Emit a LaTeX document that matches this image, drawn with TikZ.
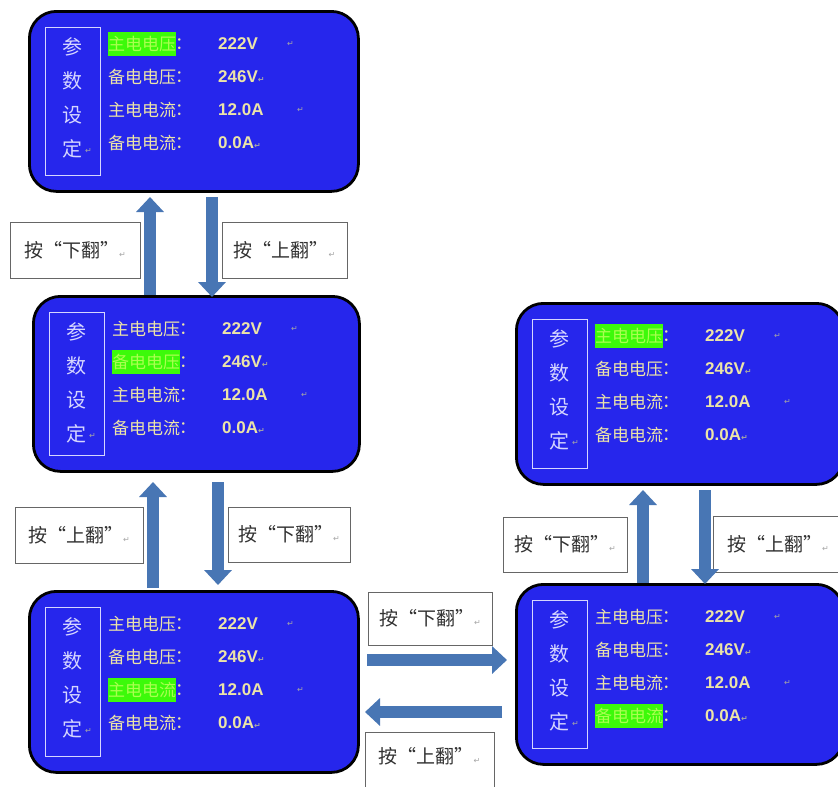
\documentclass[tikz,border=0pt]{standalone}
\usepackage{fontspec}
\usetikzlibrary{calc,arrows.meta}
\newfontfamily\cjk{Noto Sans CJK SC}
\newfontfamily\numf{Liberation Sans}
\newfontfamily\symf{DejaVu Sans}
\definecolor{lcdblue}{RGB}{38,38,236}
\definecolor{lcdtxt}{RGB}{236,228,168}
\definecolor{lcdlab}{RGB}{214,214,255}
\definecolor{hlgreen}{RGB}{60,250,10}
\definecolor{hltxt}{RGB}{170,255,80}
\definecolor{arrblue}{RGB}{72,118,180}
\definecolor{lbltxt}{RGB}{50,50,50}
\newcommand\pmark{{\symf\fontsize{8}{8}\selectfont\textcolor{gray!70}{↵}}}
\tikzset{
  screen/.style={draw=black, line width=2.8pt, fill=lcdblue, rounded corners=27pt, inner sep=0pt},
  labbox/.style={draw=lcdlab, line width=1.2pt, inner sep=0pt},
  rowtxt/.style={anchor=west, inner sep=0pt, font=\cjk\fontsize{17}{17}\selectfont, text=lcdtxt},
  valtxt/.style={anchor=west, inner sep=0pt, font=\numf\bfseries\fontsize{17}{17}\selectfont, text=lcdtxt},
  vchar/.style={inner sep=0pt, font=\cjk\fontsize{20}{20}\selectfont, text=lcdlab},
  keybox/.style={draw=gray!80!black, line width=0.9pt, fill=white, inner sep=0pt},
  keytxt/.style={inner sep=0pt, font=\cjk\fontsize{19}{19}\selectfont, text=lbltxt},
  barrow/.style={draw=arrblue, line width=12pt, -{Triangle[width=27pt,length=15pt]}},
}
% #1 name, #2 left, #3 top, #4 right, #5 bottom, #6 highlighted row
\newcommand\lcd[6]{%
  \node[screen, anchor=north west, minimum width={#4-#2}, minimum height={#5-#3}] (#1) at (#2,#3) {};
  \node[labbox, anchor=north west, minimum width=55, minimum height={#5-#3-32}] (#1lab) at ($(#2,#3)+(17,17)$) {};
  \foreach \ch/\dy in {参/37,数/71,设/105,定/139}{
    \node[vchar] at ($(#2,#3)+(44,\dy)$) {\ch};
  }
  \node[anchor=west, inner sep=0pt] at ($(#2,#3)+(57,141)$) {\pmark};
  \foreach \lab/\val/\i/\dy in {主电电压/222V/1/34,备电电压/246V/2/67,主电电流/12.0A/3/100,备电电流/0.0A/4/133}{
    \ifnum\i=#6
      \fill[hlgreen] ($(#2,#3)+(80,\dy-12)$) rectangle ($(#2,#3)+(148,\dy+12)$);
      \node[rowtxt, text=hltxt] at ($(#2,#3)+(80,\dy)$) {\lab};
    \else
      \node[rowtxt] at ($(#2,#3)+(80,\dy)$) {\lab};
    \fi
    \node[rowtxt] at ($(#2,#3)+(147,\dy)$) {：};
    \ifodd\i
      \node[valtxt] at ($(#2,#3)+(190,\dy)$) {\val};
      \node[anchor=west, inner sep=0pt] at ($(#2,#3)+(254+\i*5,\dy)$) {\pmark};
    \else
      \node[valtxt] at ($(#2,#3)+(190,\dy)$) {\val\pmark};
    \fi
  }
}
\begin{document}
\begin{tikzpicture}[x=1pt,y=-1pt]
\useasboundingbox (0,0) rectangle (838,787);
\clip (0,0) rectangle (838,787);
\fill[white] (0,0) rectangle (838,787);

\lcd{s1}{28}{10}{357}{190}{1}
\lcd{s2}{32}{295}{358}{470}{2}
\lcd{s3}{28}{590}{357}{771}{3}
\lcd{s4}{515}{583}{842}{763}{4}
\lcd{s5}{515}{302}{842}{483}{1}

% key labels
\draw[keybox] (10,222) rectangle (140,278);  \node[keytxt] (k1) at (75,250) {按“下翻”\pmark};
\draw[keybox] (222,222) rectangle (347,278); \node[keytxt] (k2) at (284.5,250) {按“上翻”\pmark};
\draw[keybox] (15,507) rectangle (143,563);  \node[keytxt] (k3) at (79,535) {按“上翻”\pmark};
\draw[keybox] (228,507) rectangle (350,562); \node[keytxt] (k4) at (289,534.5) {按“下翻”\pmark};
\draw[keybox] (368,592) rectangle (492,645); \node[keytxt] (k5) at (430,618.5) {按“下翻”\pmark};
\draw[keybox] (365,732) rectangle (494,800); \node[keytxt] (k6) at (429.5,756) {按“上翻”\pmark};
\draw[keybox] (503,517) rectangle (627,572); \node[keytxt] (k7) at (565,544.5) {按“下翻”\pmark};
\draw[keybox] (713,516) rectangle (850,572); \node[keytxt, anchor=west] (k8) at (727,544) {按“上翻”\pmark};

% arrows
\coordinate (a1s) at (150,295); \coordinate (a1e) at (150,197);
\coordinate (a2s) at (212,197); \coordinate (a2e) at (212,297);
\coordinate (a3s) at (153,588); \coordinate (a3e) at (153,482);
\coordinate (a4s) at (218,482); \coordinate (a4e) at (218,585);
\coordinate (a5s) at (367,660); \coordinate (a5e) at (507,660);
\coordinate (a6s) at (502,712); \coordinate (a6e) at (365,712);
\coordinate (a7s) at (643,583); \coordinate (a7e) at (643,490);
\coordinate (a8s) at (705,490); \coordinate (a8e) at (705,584);
\foreach \a in {1,...,8}{ \draw[barrow] (a\a s) -- (a\a e); }
\end{tikzpicture}
\end{document}
